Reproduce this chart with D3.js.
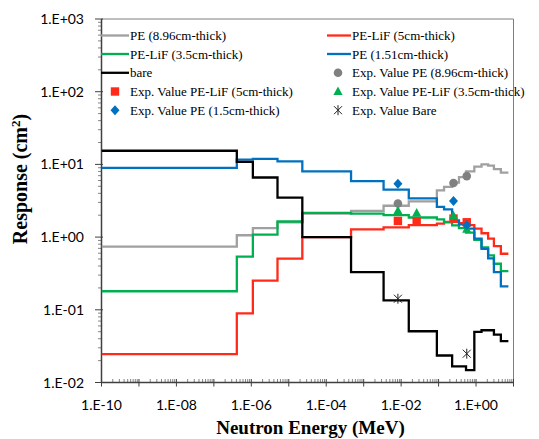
<!DOCTYPE html>
<html><head><meta charset="utf-8">
<script src="https://cdn.jsdelivr.net/npm/d3@7"></script>
<style>html,body{margin:0;padding:0;background:#fff;}svg{display:block;}</style>
</head><body>
<script>
// ---- data ----
const binEdges = [1e-10, 4.1e-7, 1.1e-6, 5e-6, 2.3e-5, 4.6e-4, 3.4e-3, 1.6e-2, 0.09, 0.14, 0.23, 0.35, 0.54, 0.9, 1.4, 2.1, 3.0, 4.6, 7.3];
const pe896   = [0.74, 1.06, 1.33, 1.6, 2.1, 2.3, 2.7, 3.1, 4.4, 4.9, 5.6, 6.7, 8.0, 9.3, 10.0, 9.6, 8.6, 7.7];
const pelif5  = [0.0245, 0.0895, 0.252, 0.505, 1.0, 1.28, 1.36, 1.46, 1.53, 1.62, 1.62, 1.55, 1.46, 1.31, 1.13, 0.95, 0.75, 0.59];
const pelif35 = [0.18, 0.54, 1.08, 1.64, 2.16, 2.1, 2.0, 1.86, 1.75, 1.6, 1.45, 1.33, 1.15, 0.92, 0.72, 0.56, 0.43, 0.34];
const pe151   = [8.95, 11.6, 11.9, 11.0, 8.0, 5.9, 4.5, 3.4, 2.6, 2.4, 1.7, 1.5, 1.31, 0.95, 0.69, 0.51, 0.33, 0.21];
const bare    = [15.4, 10.8, 6.6, 3.5, 1.0, 0.33, 0.135, 0.0507, 0.0235, 0.0235, 0.0167, 0.0167, 0.0148, 0.0497, 0.0523, 0.0523, 0.0456, 0.037];

const expPE896E = [0.0082, 0.25, 0.565],          expPE896V = [2.9, 5.56, 6.9];
const expPELiF5E = [0.0082, 0.026, 0.25, 0.565],  expPELiF5V = [1.67, 1.63, 1.8, 1.6];
const expPELiF35E = [0.0082, 0.026, 0.25, 0.565], expPELiF35V = [2.3, 2.15, 1.96, 1.28];
const expPE15E = [0.0082, 0.25, 0.565],           expPE15V = [5.4, 3.14, 1.46];
const expBareE = [0.0082, 0.565],                 expBareV = [0.142, 0.0249];

const xTickLabels = ["1.E-10","1.E-08","1.E-06","1.E-04","1.E-02","1.E+00"];
const yTickLabels = ["1.E-02","1.E-01","1.E+00","1.E+01","1.E+02","1.E+03"];

// ---- layout ----
const W = 539, H = 439;
const L = 101.5, R = 513.5, T = 19, B = 382.5;
const svg = d3.select("body").append("svg").attr("width", W).attr("height", H);
const x = d3.scaleLog().domain([1e-10, 10]).range([L, R]);
const y = d3.scaleLog().domain([1e-2, 1e3]).range([B, T]);

const C = {gray:"#a0a0a0", grayM:"#808080", red:"#ff2a1a", green:"#00b050", blue:"#0070c0", black:"#000"};

// plot frame (top & right)
svg.append("path").attr("d", `M${L},${T}H${R}V${B}`).attr("fill","none").attr("stroke","#7f7f7f").attr("stroke-width",1);

// axes
const ax = svg.append("g").attr("stroke","#404040").attr("fill","none");
// y axis ticks
for (let d = -2; d <= 3; d++) {
  const yy = y(Math.pow(10, d));
  ax.append("line").attr("x1", L-6.5).attr("x2", L+1.5).attr("y1", yy).attr("y2", yy).attr("stroke-width",1);
  if (d < 3) for (let m = 2; m <= 9; m++) {
    const ym = y(m*Math.pow(10, d));
    ax.append("line").attr("x1", L-3.5).attr("x2", L).attr("y1", ym).attr("y2", ym).attr("stroke-width",0.8).attr("stroke","#666");
  }
}
// x axis ticks
for (let d = -10; d <= 1; d++) {
  const xx = x(Math.pow(10, d));
  ax.append("line").attr("x1", xx).attr("x2", xx).attr("y1", B-3.5).attr("y2", B+4).attr("stroke-width",1);
  if (d < 1) for (let m = 2; m <= 9; m++) {
    const xm = x(m*Math.pow(10, d));
    ax.append("line").attr("x1", xm).attr("x2", xm).attr("y1", B-3.5).attr("y2", B).attr("stroke-width",0.8).attr("stroke","#666");
  }
}
ax.append("line").attr("x1", L).attr("x2", L).attr("y1", T).attr("y2", B+0.5).attr("stroke-width",1.5);
ax.append("line").attr("x1", L).attr("x2", R).attr("y1", B).attr("y2", B).attr("stroke-width",1.5);

// tick labels
const tf = "Lato, 'Liberation Sans', sans-serif";
yTickLabels.forEach((t, i) => {
  svg.append("text").attr("x", 84).attr("y", y(Math.pow(10, i-2)) + 5).attr("text-anchor","end")
    .attr("font-family", tf).attr("font-size", 14).attr("fill","#000").text(t);
});
xTickLabels.forEach((t, i) => {
  svg.append("text").attr("x", x(Math.pow(10, -10 + 2*i))).attr("y", 410).attr("text-anchor","middle")
    .attr("font-family", tf).attr("font-size", 14).attr("fill","#000").text(t);
});

// axis titles
const sf = "'Liberation Serif', 'Times New Roman', serif";
svg.append("text").attr("x", (L+R)/2 + 3).attr("y", 434).attr("text-anchor","middle")
  .attr("font-family", sf).attr("font-weight","bold").attr("font-size", 19).text("Neutron Energy (MeV)");
const yt = svg.append("text").attr("transform","translate(27,179) rotate(-90)").attr("text-anchor","middle")
  .attr("font-family", sf).attr("font-weight","bold").attr("font-size", 20);
yt.append("tspan").text("Response (cm");
yt.append("tspan").attr("dy", -7).attr("font-size", 13).text("2");
yt.append("tspan").attr("dy", 7).text(")");

// step lines
const clip = svg.append("defs").append("clipPath").attr("id","clip");
clip.append("rect").attr("x", L).attr("y", T).attr("width", R-L).attr("height", B-T);
const line = d3.line().x(d => x(d[0])).y(d => y(d[1])).curve(d3.curveStepAfter);
function stepData(vals) {
  const pts = vals.map((v, i) => [binEdges[i], v]);
  pts.push([binEdges[vals.length], vals[vals.length-1]]);
  return pts;
}
const series = [
  {name:"PE (8.96cm-thick)", vals:pe896, color:C.gray},
  {name:"PE-LiF (5cm-thick)", vals:pelif5, color:C.red},
  {name:"PE-LiF (3.5cm-thick)", vals:pelif35, color:C.green},
  {name:"PE (1.51cm-thick)", vals:pe151, color:C.blue},
  {name:"bare", vals:bare, color:C.black}
];
const gl = svg.append("g").attr("clip-path","url(#clip)");
series.forEach(s => {
  gl.append("path").attr("d", line(stepData(s.vals))).attr("fill","none")
    .attr("stroke", s.color).attr("stroke-width", 2.3).attr("stroke-linejoin","miter");
});

// markers
function marker(g, type, cx, cy, color) {
  if (type === "circle") g.append("circle").attr("cx", cx).attr("cy", cy).attr("r", 4.3).attr("fill", color);
  else if (type === "square") g.append("rect").attr("x", cx-4.2).attr("y", cy-4.2).attr("width", 8.4).attr("height", 8.4).attr("fill", color);
  else if (type === "triangle") g.append("path").attr("d", `M${cx},${cy-5}L${cx+4.6},${cy+3.5}L${cx-4.6},${cy+3.5}Z`).attr("fill", color);
  else if (type === "diamond") g.append("path").attr("d", `M${cx},${cy-5}L${cx+4.5},${cy}L${cx},${cy+5}L${cx-4.5},${cy}Z`).attr("fill", color);
  else if (type === "star") g.append("path").attr("d", `M${cx-4},${cy-4}L${cx+4},${cy+4}M${cx-4},${cy+4}L${cx+4},${cy-4}M${cx},${cy-5}V${cy+5}`)
      .attr("stroke", color).attr("stroke-width", 1).attr("fill","none");
}
const expSeries = [
  {name:"Exp. Value PE (8.96cm-thick)", E:expPE896E, V:expPE896V, type:"circle", color:C.grayM},
  {name:"Exp. Value PE-LiF (5cm-thick)", E:expPELiF5E, V:expPELiF5V, type:"square", color:C.red},
  {name:"Exp. Value PE-LiF (3.5cm-thick)", E:expPELiF35E, V:expPELiF35V, type:"triangle", color:C.green},
  {name:"Exp. Value PE (1.5cm-thick)", E:expPE15E, V:expPE15V, type:"diamond", color:C.blue},
  {name:"Exp. Value Bare", E:expBareE, V:expBareV, type:"star", color:"#222"}
];
const gm = svg.append("g");
expSeries.forEach(s => s.E.forEach((e, i) => marker(gm, s.type, x(e), y(s.V[i]), s.color)));

// legend
const legendItems = [...series.map(s => ({...s, kind:"line"})), ...expSeries.map(s => ({...s, kind:"marker"}))];
const rowsY = [35.5, 54, 72.8, 91.5, 110.2];
const lg = svg.append("g");
legendItems.forEach((it, i) => {
  const col = i % 2, row = Math.floor(i / 2);
  const cy = rowsY[row];
  const x0 = col === 0 ? 101 : 327, x1 = col === 0 ? 129 : 351;
  if (it.kind === "line") {
    lg.append("line").attr("x1", x0).attr("x2", x1).attr("y1", cy).attr("y2", cy).attr("stroke", it.color).attr("stroke-width", 2.3);
  } else {
    marker(lg, it.type, col === 0 ? 115 : 338, cy, it.color);
  }
  lg.append("text").attr("x", x1 + 1).attr("y", cy + 4.5).attr("font-family", sf).attr("font-size", 13).attr("fill","#000").text(it.name);
});
</script>
</body></html>
